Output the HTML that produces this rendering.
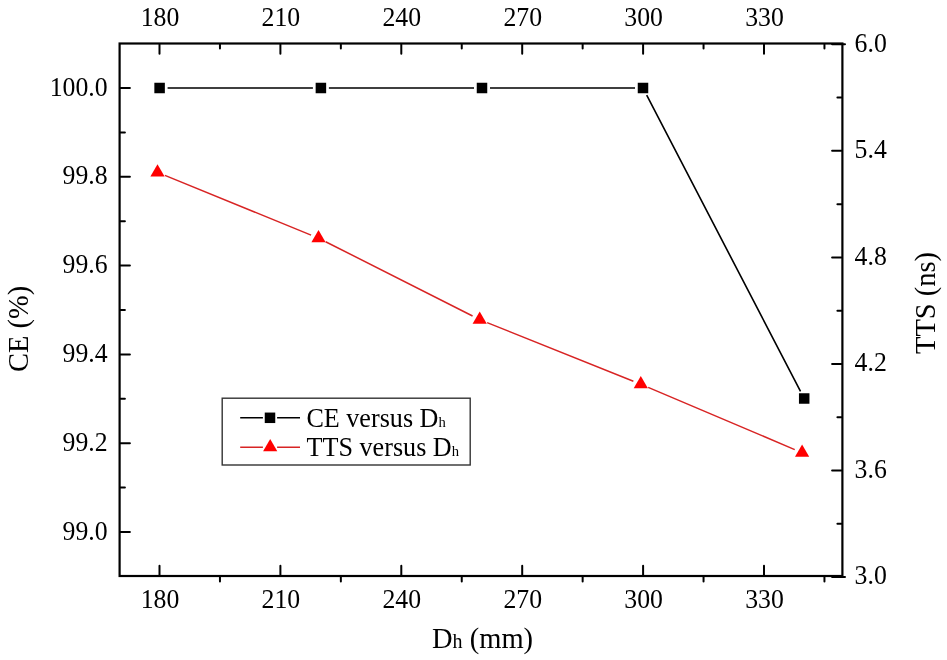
<!DOCTYPE html>
<html><head><meta charset="utf-8"><title>CE and TTS versus Dh</title>
<style>html,body{margin:0;padding:0;background:#fff;overflow:hidden;}svg{display:block;will-change:transform;}
text{font-family:"Liberation Serif",serif;}</style></head>
<body><svg width="947" height="660" viewBox="0 0 947 660"><rect x="0" y="0" width="947" height="660" fill="#fff"/><path d="M159.50,575.00V565.70M159.50,44.50V53.80M280.40,575.00V565.70M280.40,44.50V53.80M401.30,575.00V565.70M401.30,44.50V53.80M522.20,575.00V565.70M522.20,44.50V53.80M643.10,575.00V565.70M643.10,44.50V53.80M764.00,575.00V565.70M764.00,44.50V53.80M219.95,577.00V581.50M219.95,44.50V48.50M340.85,577.00V581.50M340.85,44.50V48.50M461.75,577.00V581.50M461.75,44.50V48.50M582.65,577.00V581.50M582.65,44.50V48.50M703.55,577.00V581.50M703.55,44.50V48.50M824.45,577.00V581.50M824.45,44.50V48.50M120.60,532.00H129.90M120.60,443.20H129.90M120.60,354.40H129.90M120.60,265.60H129.90M120.60,176.80H129.90M120.60,88.00H129.90M120.60,487.60H124.90M120.60,398.80H124.90M120.60,310.00H124.90M120.60,221.20H124.90M120.60,132.40H124.90M845.00,577.10H832.10M841.40,470.54H832.10M841.40,363.98H832.10M841.40,257.42H832.10M841.40,150.86H832.10M845.00,44.30H832.10M841.40,523.82H837.40M841.40,417.26H837.40M841.40,310.70H837.40M841.40,204.14H837.40M841.40,97.58H837.40" stroke="#000" stroke-width="2" stroke-linecap="round" fill="none"/><rect x="119.60" y="43.50" width="722.80" height="532.50" fill="none" stroke="#000" stroke-width="2.2"/><g font-size="26.5" fill="#000"><text transform="translate(160.00,608.30) scale(0.972,1.03)" text-anchor="middle">180</text><text transform="translate(160.00,26.30) scale(0.972,1.03)" text-anchor="middle">180</text><text transform="translate(280.90,608.30) scale(0.972,1.03)" text-anchor="middle">210</text><text transform="translate(280.90,26.30) scale(0.972,1.03)" text-anchor="middle">210</text><text transform="translate(401.80,608.30) scale(0.972,1.03)" text-anchor="middle">240</text><text transform="translate(401.80,26.30) scale(0.972,1.03)" text-anchor="middle">240</text><text transform="translate(522.70,608.30) scale(0.972,1.03)" text-anchor="middle">270</text><text transform="translate(522.70,26.30) scale(0.972,1.03)" text-anchor="middle">270</text><text transform="translate(643.60,608.30) scale(0.972,1.03)" text-anchor="middle">300</text><text transform="translate(643.60,26.30) scale(0.972,1.03)" text-anchor="middle">300</text><text transform="translate(764.50,608.30) scale(0.972,1.03)" text-anchor="middle">330</text><text transform="translate(764.50,26.30) scale(0.972,1.03)" text-anchor="middle">330</text><text transform="translate(107.60,539.60) scale(0.972,1.03)" text-anchor="end">99.0</text><text transform="translate(107.60,450.80) scale(0.972,1.03)" text-anchor="end">99.2</text><text transform="translate(107.60,362.00) scale(0.972,1.03)" text-anchor="end">99.4</text><text transform="translate(107.60,273.20) scale(0.972,1.03)" text-anchor="end">99.6</text><text transform="translate(107.60,184.40) scale(0.972,1.03)" text-anchor="end">99.8</text><text transform="translate(107.60,95.60) scale(0.972,1.03)" text-anchor="end">100.0</text><text transform="translate(854.60,584.40) scale(0.972,1.03)">3.0</text><text transform="translate(854.60,477.84) scale(0.972,1.03)">3.6</text><text transform="translate(854.60,371.28) scale(0.972,1.03)">4.2</text><text transform="translate(854.60,264.72) scale(0.972,1.03)">4.8</text><text transform="translate(854.60,158.16) scale(0.972,1.03)">5.4</text><text transform="translate(854.60,51.60) scale(0.972,1.03)">6.0</text></g><g font-size="28.5" fill="#000"><text x="432" y="647.5">D<tspan font-size="20">h</tspan> (mm)</text><text transform="translate(28.3,372) rotate(-90)">CE (%)</text><text transform="translate(934.7,354) rotate(-90)">TTS (ns)</text></g><path d="M167.60,88.00L312.90,88.00M328.90,88.00L474.00,88.00M490.00,88.00L635.00,88.00M646.69,95.10L800.51,391.40" stroke="#000" stroke-width="1.6" fill="none"/><path d="M164.91,175.42L311.09,235.08M325.64,241.71L472.56,315.99M487.13,322.58L633.37,381.22M648.16,387.33L794.74,449.57" stroke="#d82424" stroke-width="1.5" fill="none"/><rect x="154.35" y="82.75" width="10.5" height="10.5" fill="#000"/><rect x="315.65" y="82.75" width="10.5" height="10.5" fill="#000"/><rect x="476.75" y="82.75" width="10.5" height="10.5" fill="#000"/><rect x="637.75" y="82.75" width="10.5" height="10.5" fill="#000"/><rect x="798.95" y="393.25" width="10.5" height="10.5" fill="#000"/><path d="M157.50,164.20L164.60,176.50L150.40,176.50Z" fill="#ff0000"/><path d="M318.50,229.90L325.60,242.20L311.40,242.20Z" fill="#ff0000"/><path d="M479.70,311.40L486.80,323.70L472.60,323.70Z" fill="#ff0000"/><path d="M640.80,376.00L647.90,388.30L633.70,388.30Z" fill="#ff0000"/><path d="M802.10,444.50L809.20,456.80L795.00,456.80Z" fill="#ff0000"/><rect x="222.2" y="398.2" width="248.0" height="66.8" fill="none" stroke="#333" stroke-width="1.4"/><path d="M240.2,417.7H262.9M277.1,417.7H300" stroke="#000" stroke-width="1.6"/><rect x="264.75" y="412.55" width="10.5" height="10.5" fill="#000"/><path d="M240.2,447.25H262.9M277.1,447.25H300" stroke="#d82424" stroke-width="1.5"/><path d="M270.20,439.00L277.30,451.30L263.10,451.30Z" fill="#ff0000"/><g font-size="26.4" fill="#000"><text transform="translate(306.40,426.60) scale(0.99,1.05)">CE versus D<tspan font-size="14.8">h</tspan></text><text transform="translate(306.60,456.30) scale(0.99,1.05)">TTS versus D<tspan font-size="14.8">h</tspan></text></g></svg></body></html>
